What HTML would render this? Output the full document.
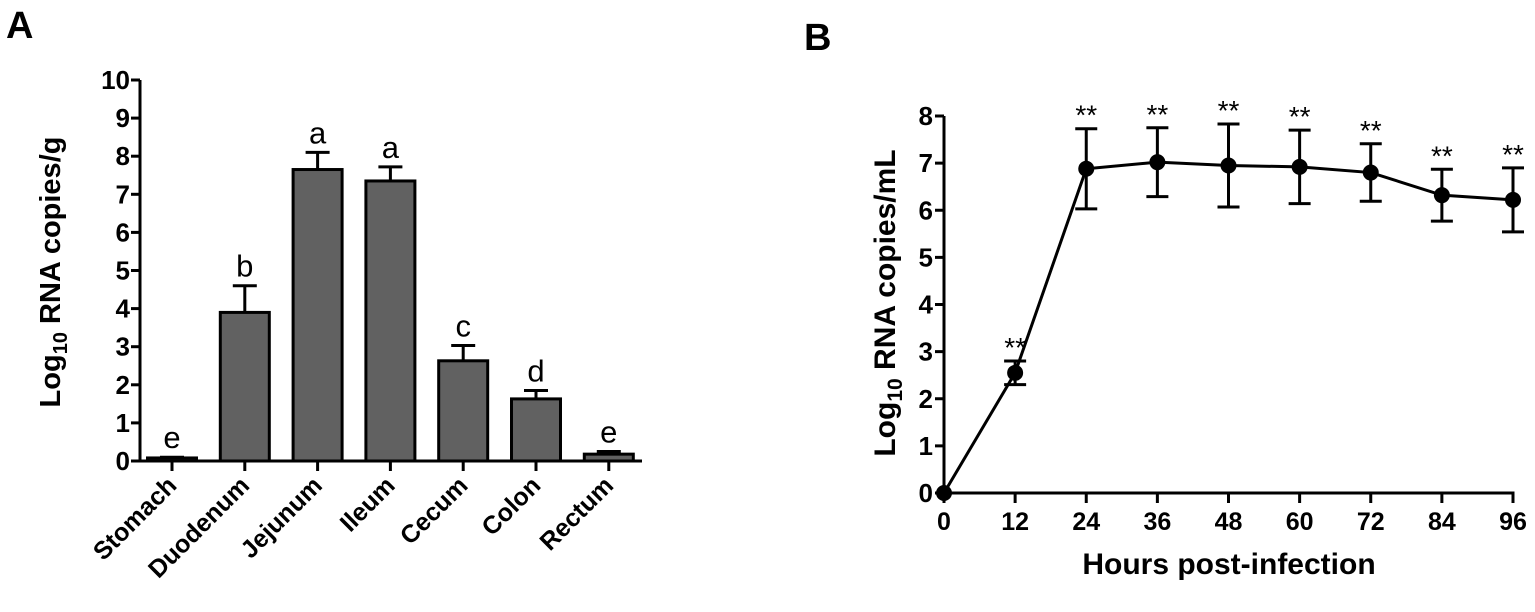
<!DOCTYPE html>
<html><head><meta charset="utf-8"><style>
body{margin:0;background:#fff;}
svg{display:block;font-family:"Liberation Sans",Arial,sans-serif;}
</style></head><body>
<svg id="c" width="1535" height="612" xmlns="http://www.w3.org/2000/svg">
<text x="6" y="38" font-size="38" font-weight="bold">A</text>
<text x="804" y="50" font-size="38" font-weight="bold">B</text>
<g id="ga"></g>
<g id="gb"></g>
</svg>
<script>
const catsA=["Stomach","Duodenum","Jejunum","Ileum","Cecum","Colon","Rectum"];
const meansA=[0.08,3.9,7.65,7.35,2.63,1.63,0.18];
const errA=[0.02,0.7,0.45,0.37,0.4,0.22,0.07];
const lettersA=["e","b","a","a","c","d","e"];
const ticksA=[0,1,2,3,4,5,6,7,8,9,10];
const hoursB=[0,12,24,36,48,60,72,84,96];
const meansB=[0,2.55,6.88,7.02,6.95,6.92,6.80,6.32,6.22];
const errB=[0,0.25,0.85,0.73,0.88,0.78,0.61,0.55,0.68];
const ticksBy=[0,1,2,3,4,5,6,7,8];
const ns="http://www.w3.org/2000/svg";
function mk(p,t,a,txt){const e=document.createElementNS(ns,t);for(const k in a)e.setAttribute(k,a[k]);if(txt!==undefined)e.textContent=txt;p.appendChild(e);return e;}
// Panel A
const ga=document.getElementById('ga');
const ax0=140,axEnd=642,ay0=461,ay10=80;
const yA=v=>ay0-(ay0-ay10)*v/10;
const xA=i=>172+i*72.8;
let e;
e=mk(ga,'line',{x1:ax0,y1:ay10,x2:ax0,y2:ay0+1.5,stroke:'#000','stroke-width':3});

e=mk(ga,'line',{x1:ax0-1.5,y1:ay0,x2:axEnd,y2:ay0,stroke:'#000','stroke-width':3});

ticksA.forEach(t=>{
 e=mk(ga,'line',{x1:ax0-9,y1:yA(t),x2:ax0,y2:yA(t),stroke:'#000','stroke-width':3});
 
 e=mk(ga,'text',{x:ax0-10,y:yA(t)+9,'font-size':26,'font-weight':'bold','text-anchor':'end'},t);
 
});
catsA.forEach((c,i)=>{
 const x=xA(i),bw=49;
 e=mk(ga,'line',{x1:x-12,y1:yA(meansA[i]+errA[i]),x2:x+12,y2:yA(meansA[i]+errA[i]),stroke:'#000','stroke-width':3});
 
 e=mk(ga,'line',{x1:x,y1:yA(meansA[i]+errA[i]),x2:x,y2:yA(meansA[i]),stroke:'#000','stroke-width':3});
 
 e=mk(ga,'rect',{x:x-bw/2,y:yA(meansA[i]),width:bw,height:ay0-yA(meansA[i]),fill:'#616161',stroke:'#000','stroke-width':3});
 
 e=mk(ga,'text',{x:x,y:yA(meansA[i]+errA[i])-9,'font-size':31,'text-anchor':'middle'},lettersA[i]);
 
 e=mk(ga,'line',{x1:x,y1:ay0,x2:x,y2:ay0+10,stroke:'#000','stroke-width':3});
 
 e=mk(ga,'text',{x:x+6,y:ay0+26,'font-size':25,'font-weight':'bold','text-anchor':'end',transform:`rotate(-45 ${x+6} ${ay0+26})`},c);
 
});
e=mk(ga,'text',{x:0,y:0,'font-size':29,'font-weight':'bold','text-anchor':'middle',transform:'translate(60 272) rotate(-90)'});

e.innerHTML='Log<tspan font-size="20" dy="7">10</tspan><tspan dy="-7"> RNA copies/g</tspan>';
// Panel B
const gb=document.getElementById('gb');
const bx0=944,bx96=1513,by0=493,by8=116;
const xB=h=>bx0+(bx96-bx0)*h/96;
const yB=v=>by0-(by0-by8)*v/8;
e=mk(gb,'line',{x1:bx0,y1:by8,x2:bx0,y2:by0+1.5,stroke:'#000','stroke-width':3});

e=mk(gb,'line',{x1:bx0-1.5,y1:by0,x2:bx96+1.5,y2:by0,stroke:'#000','stroke-width':3});

ticksBy.forEach(t=>{
 e=mk(gb,'line',{x1:bx0-9,y1:yB(t),x2:bx0,y2:yB(t),stroke:'#000','stroke-width':3});
 
 e=mk(gb,'text',{x:bx0-11,y:yB(t)+9,'font-size':26,'font-weight':'bold','text-anchor':'end'},t);
 
});
hoursB.forEach(h=>{
 e=mk(gb,'line',{x1:xB(h),y1:by0,x2:xB(h),y2:by0+10,stroke:'#000','stroke-width':3});
 
 e=mk(gb,'text',{x:xB(h),y:by0+37,'font-size':25,'font-weight':'bold','text-anchor':'middle'},h);
 
});
e=mk(gb,'polyline',{points:hoursB.map((h,i)=>xB(h)+','+yB(meansB[i])).join(' '),fill:'none',stroke:'#000','stroke-width':3});

hoursB.forEach((h,i)=>{
 const x=xB(h);
 if(errB[i]>0){
  const t=yB(meansB[i]+errB[i]),b=yB(meansB[i]-errB[i]);
  e=mk(gb,'path',{d:`M${x},${t}V${b}M${x-11},${t}H${x+11}M${x-11},${b}H${x+11}`,stroke:'#000','stroke-width':3,fill:'none'});
  
  e=mk(gb,'text',{x:x,y:t-4,'font-size':28,'text-anchor':'middle'},'**');
  
 }
 e=mk(gb,'circle',{cx:x,cy:yB(meansB[i]),r:8,fill:'#000'});
 
});
e=mk(gb,'text',{x:0,y:0,'font-size':30,'font-weight':'bold','text-anchor':'middle',transform:'translate(895 303) rotate(-90)'});

e.innerHTML='Log<tspan font-size="21" dy="7">10</tspan><tspan dy="-7"> RNA copies/mL</tspan>';
e=mk(gb,'text',{x:1229,y:574,'font-size':30,'font-weight':'bold','text-anchor':'middle'},'Hours post-infection');

</script>
</body></html>
